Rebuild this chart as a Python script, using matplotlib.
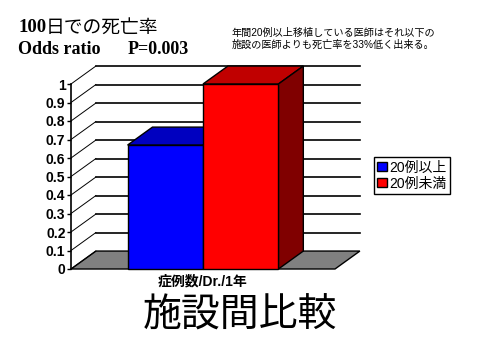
import matplotlib.pyplot as plt
from matplotlib.patches import Polygon, Patch

plt.rcParams['font.family'] = ['Liberation Sans', 'Noto Sans CJK JP']

# data
categories = ['20例以上', '20例未満']
odds_ratio = [0.67, 1.0]
front_colors = ['#0000ff', '#ff0000']
top_colors = ['#0000c0', '#c00000']
side_colors = ['#000080', '#800000']
yticks = [0, 0.1, 0.2, 0.3, 0.4, 0.5, 0.6, 0.7, 0.8, 0.9, 1.0]
ytick_labels = ['0', '0.1', '0.2', '0.3', '0.4', '0.5', '0.6', '0.7', '0.8', '0.9', '1']

# 3d depth offset (data units)
dx = 0.33
dy = 0.097
margin = 0.75
bar_w = 1.0


def draw_bar(ax, x0, h, c_front, c_top, c_side):
    top = [(x0, h), (x0 + bar_w, h), (x0 + bar_w + dx, h + dy), (x0 + dx, h + dy)]
    side = [(x0 + bar_w, 0), (x0 + bar_w + dx, dy), (x0 + bar_w + dx, h + dy), (x0 + bar_w, h)]
    front = [(x0, 0), (x0 + bar_w, 0), (x0 + bar_w, h), (x0, h)]
    for pts, c in [(top, c_top), (side, c_side), (front, c_front)]:
        ax.add_patch(Polygon(pts, closed=True, facecolor=c, edgecolor='black',
                             linewidth=1, clip_on=False, zorder=4))


fig = plt.figure(figsize=(4.8, 3.6), dpi=100)
ax = fig.add_axes([71 / 480, 1 - 269 / 360, 264 / 480, 185 / 360])
ax.patch.set_visible(False)

n = len(categories)
x_left = -margin
x_right = (n - 1) + bar_w + margin
ax.set_xlim(x_left, x_right)
ax.set_ylim(0, 1)

# floor
floor = [(x_left, 0), (x_right, 0), (x_right + dx, dy), (x_left + dx, dy)]
ax.add_patch(Polygon(floor, closed=True, facecolor='#808080', edgecolor='black',
                     linewidth=1, clip_on=False, zorder=1))

# back wall / left wall grid
for v in yticks:
    ax.plot([x_left, x_left + dx], [v, v + dy], color='black', lw=0.7,
            clip_on=False, zorder=2)
    if v > 0:
        ax.plot([x_left + dx, x_right + dx], [v + dy, v + dy], color='black',
                lw=1.2, clip_on=False, zorder=2)

# bars
for i, val in enumerate(odds_ratio):
    draw_bar(ax, i * bar_w, val, front_colors[i], top_colors[i], side_colors[i])

for s in ['top', 'right', 'bottom']:
    ax.spines[s].set_visible(False)
ax.spines['left'].set_linewidth(1.2)
ax.set_yticks(yticks)
ax.set_yticklabels(ytick_labels)
ax.tick_params(axis='y', direction='out', length=3, width=1, pad=1,
               labelsize=10)
for lab in ax.get_yticklabels():
    lab.set_fontweight('bold')
ax.set_xticks([])
ax.set_xlabel('症例数/Dr./1年', fontsize=10, fontweight='bold', labelpad=4)

# legend
handles = [Patch(facecolor=front_colors[i], edgecolor='black', label=categories[i])
           for i in range(n)]
fig.legend(handles=handles, loc='upper left', bbox_to_anchor=(374 / 480, 1 - 157 / 360),
           fontsize=10, frameon=True, fancybox=False, edgecolor='black',
           framealpha=1, handlelength=0.65, handleheight=0.65, handletextpad=0.2,
           borderpad=0.25, labelspacing=0.15, borderaxespad=0)

# texts
serif = ['Liberation Serif', 'Noto Sans CJK JP']
fig.text(18 / 480, 1 - 28 / 360, '100', family=serif, fontsize=13.5,
         fontweight='bold', va='center', ha='left')
fig.text(46 / 480, 1 - 28 / 360, '日での死亡率', fontsize=13.5,
         va='center', ha='left')
fig.text(18 / 480, 1 - 49 / 360, 'Odds ratio', family=serif, fontsize=13,
         fontweight='bold', va='center', ha='left')
fig.text(128 / 480, 1 - 49 / 360, 'P=0.003', family=serif, fontsize=13,
         fontweight='bold', va='center', ha='left')
fig.text(232 / 480, 1 - 33 / 360, '年間20例以上移植している医師はそれ以下の',
         fontsize=7.3, va='center', ha='left')
fig.text(232 / 480, 1 - 45 / 360, '施設の医師よりも死亡率を33%低く出来る。',
         fontsize=7.3, va='center', ha='left')
fig.text(240 / 480, 1 - 316 / 360, '施設間比較', fontsize=28, va='center', ha='center')

fig.savefig('out.png', dpi=100)
